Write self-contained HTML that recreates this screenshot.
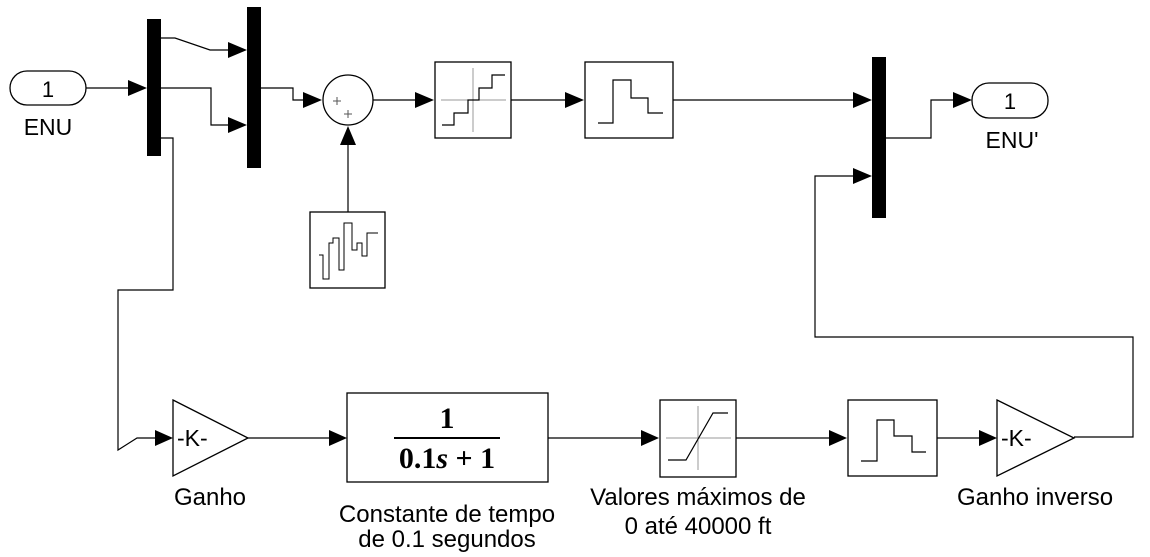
<!DOCTYPE html>
<html><head><meta charset="utf-8"><style>
html,body{margin:0;padding:0;background:#fff;}
svg{display:block;}
text{font-family:"Liberation Sans",Arial,sans-serif;fill:#000;}
</style></head><body>
<svg width="1150" height="557" viewBox="0 0 1150 557" xmlns="http://www.w3.org/2000/svg">
<g fill="none" stroke="#000" stroke-width="1.2">
<polyline points="86,88 130,88"/>
<polyline points="161,38 175,38 210,50 230,50"/>
<polyline points="161,88 211,88 211,125 230,125"/>
<polyline points="261,88 293,88 293,100 305,100"/>
<polyline points="373,100 417,100"/>
<polyline points="348,145 348,212"/>
<polyline points="511,100 567,100"/>
<polyline points="673,100 855,100"/>
<polyline points="886,138 931,138 931,100 955,100"/>
<polyline points="855,176 815,176 815,337 1133,337 1133,437 1074,437"/>
<polyline points="161,138 173,138 173,290 118,290 118,450 137,438 157,438"/>
<polyline points="248,438 331,438"/>
<polyline points="548,438 641,438"/>
<polyline points="736,438 830,438"/>
<polyline points="937,438 979,438"/>
</g>
<g fill="#000">
<polygon points="128,80 147,88 128,96"/>
<polygon points="228,42 247,50 228,58"/>
<polygon points="228,117 247,125 228,133"/>
<polygon points="303,92 322,100 303,108"/>
<polygon points="340,145 348,126 356,145"/>
<polygon points="415,92 434,100 415,108"/>
<polygon points="565,92 584,100 565,108"/>
<polygon points="853,92 872,100 853,108"/>
<polygon points="853,168 872,176 853,184"/>
<polygon points="953,92 972,100 953,108"/>
<polygon points="155,430 173,438 155,446"/>
<polygon points="329,430 347,438 329,446"/>
<polygon points="641,430 659,438 641,446"/>
<polygon points="829,430 847,438 829,446"/>
<polygon points="979,430 997,438 979,446"/>
<rect x="147" y="19" width="14" height="137"/>
<rect x="247" y="7" width="14" height="161"/>
<rect x="872" y="57" width="14" height="161"/>
</g>
<rect x="10" y="71" width="76" height="34" rx="17" fill="#fff" stroke="#000" stroke-width="1.3"/>
<text x="48" y="97" font-size="22" text-anchor="middle">1</text>
<text x="48" y="135" font-size="23" text-anchor="middle">ENU</text>
<rect x="972" y="83" width="76" height="35" rx="17" fill="#fff" stroke="#000" stroke-width="1.3"/>
<text x="1010" y="109" font-size="22" text-anchor="middle">1</text>
<text x="1012" y="148" font-size="23" text-anchor="middle">ENU'</text>
<circle cx="348" cy="100" r="25" fill="#fff" stroke="#000" stroke-width="1.3"/>
<g stroke="#555" stroke-width="1"><line x1="333" y1="101" x2="341" y2="101"/><line x1="337" y1="97" x2="337" y2="105"/><line x1="344" y1="114" x2="352" y2="114"/><line x1="348" y1="110" x2="348" y2="118"/></g>
<rect x="310" y="212" width="75" height="76" fill="#fff" stroke="#000" stroke-width="1.3"/>
<polyline fill="none" stroke="#000" stroke-width="1" points="319,255 323,255 323,279 329,279 329,243 333,243 333,238 339,238 339,270 344,270 344,223 352,223 352,250 357,250 357,243 362,243 362,256 367,256 367,233 378,233"/>
<rect x="435" y="62" width="76" height="76" fill="#fff" stroke="#000" stroke-width="1.3"/>
<g stroke="#999" stroke-width="1"><line x1="441" y1="100" x2="506" y2="100"/><line x1="473" y1="68" x2="473" y2="132"/></g>
<polyline fill="none" stroke="#000" stroke-width="1.2" points="442,125 454,125 454,113 468,113 468,100 479,100 479,88 492,88 492,75 505,75"/>
<rect x="585" y="62" width="88" height="76" fill="#fff" stroke="#000" stroke-width="1.3"/>
<polyline fill="none" stroke="#000" stroke-width="1.2" points="598,123 613,123 613,80 631,80 631,98 648,98 648,113 663,113"/>
<polygon points="173,400 248,438 173,476" fill="#fff" stroke="#000" stroke-width="1.3"/>
<text x="177" y="446" font-size="23">-K-</text>
<text x="210" y="505" font-size="24" text-anchor="middle">Ganho</text>
<rect x="347" y="393" width="201" height="89" fill="#fff" stroke="#000" stroke-width="1.3"/>
<text x="447" y="428" font-size="30" font-weight="bold" text-anchor="middle" style="font-family:'Liberation Serif',serif">1</text>
<line x1="394" y1="438" x2="500" y2="438" stroke="#000" stroke-width="2"/>
<text x="447" y="468" font-size="30" font-weight="bold" text-anchor="middle" style="font-family:'Liberation Serif',serif">0.1<tspan font-style="italic">s</tspan> + 1</text>
<text x="447" y="522" font-size="24" text-anchor="middle">Constante de tempo</text>
<text x="447" y="547" font-size="24" text-anchor="middle">de 0.1 segundos</text>
<rect x="660" y="400" width="76" height="77" fill="#fff" stroke="#000" stroke-width="1.3"/>
<g stroke="#999" stroke-width="1"><line x1="666" y1="438" x2="731" y2="438"/><line x1="698" y1="406" x2="698" y2="470"/></g>
<polyline fill="none" stroke="#000" stroke-width="1.2" points="668,460 686,460 713,413 728,413"/>
<text x="698" y="505" font-size="24" text-anchor="middle">Valores máximos de</text>
<text x="698" y="534" font-size="24" text-anchor="middle">0 até 40000 ft</text>
<rect x="848" y="400" width="89" height="76" fill="#fff" stroke="#000" stroke-width="1.3"/>
<polyline fill="none" stroke="#000" stroke-width="1.2" points="861,461 877,461 877,420 894,420 894,436 912,436 912,452 926,452"/>
<polygon points="997,400 1074,438 997,476" fill="#fff" stroke="#000" stroke-width="1.3"/>
<text x="1001" y="446" font-size="23">-K-</text>
<text x="1035" y="505" font-size="24" text-anchor="middle">Ganho inverso</text>
</svg>
</body></html>
